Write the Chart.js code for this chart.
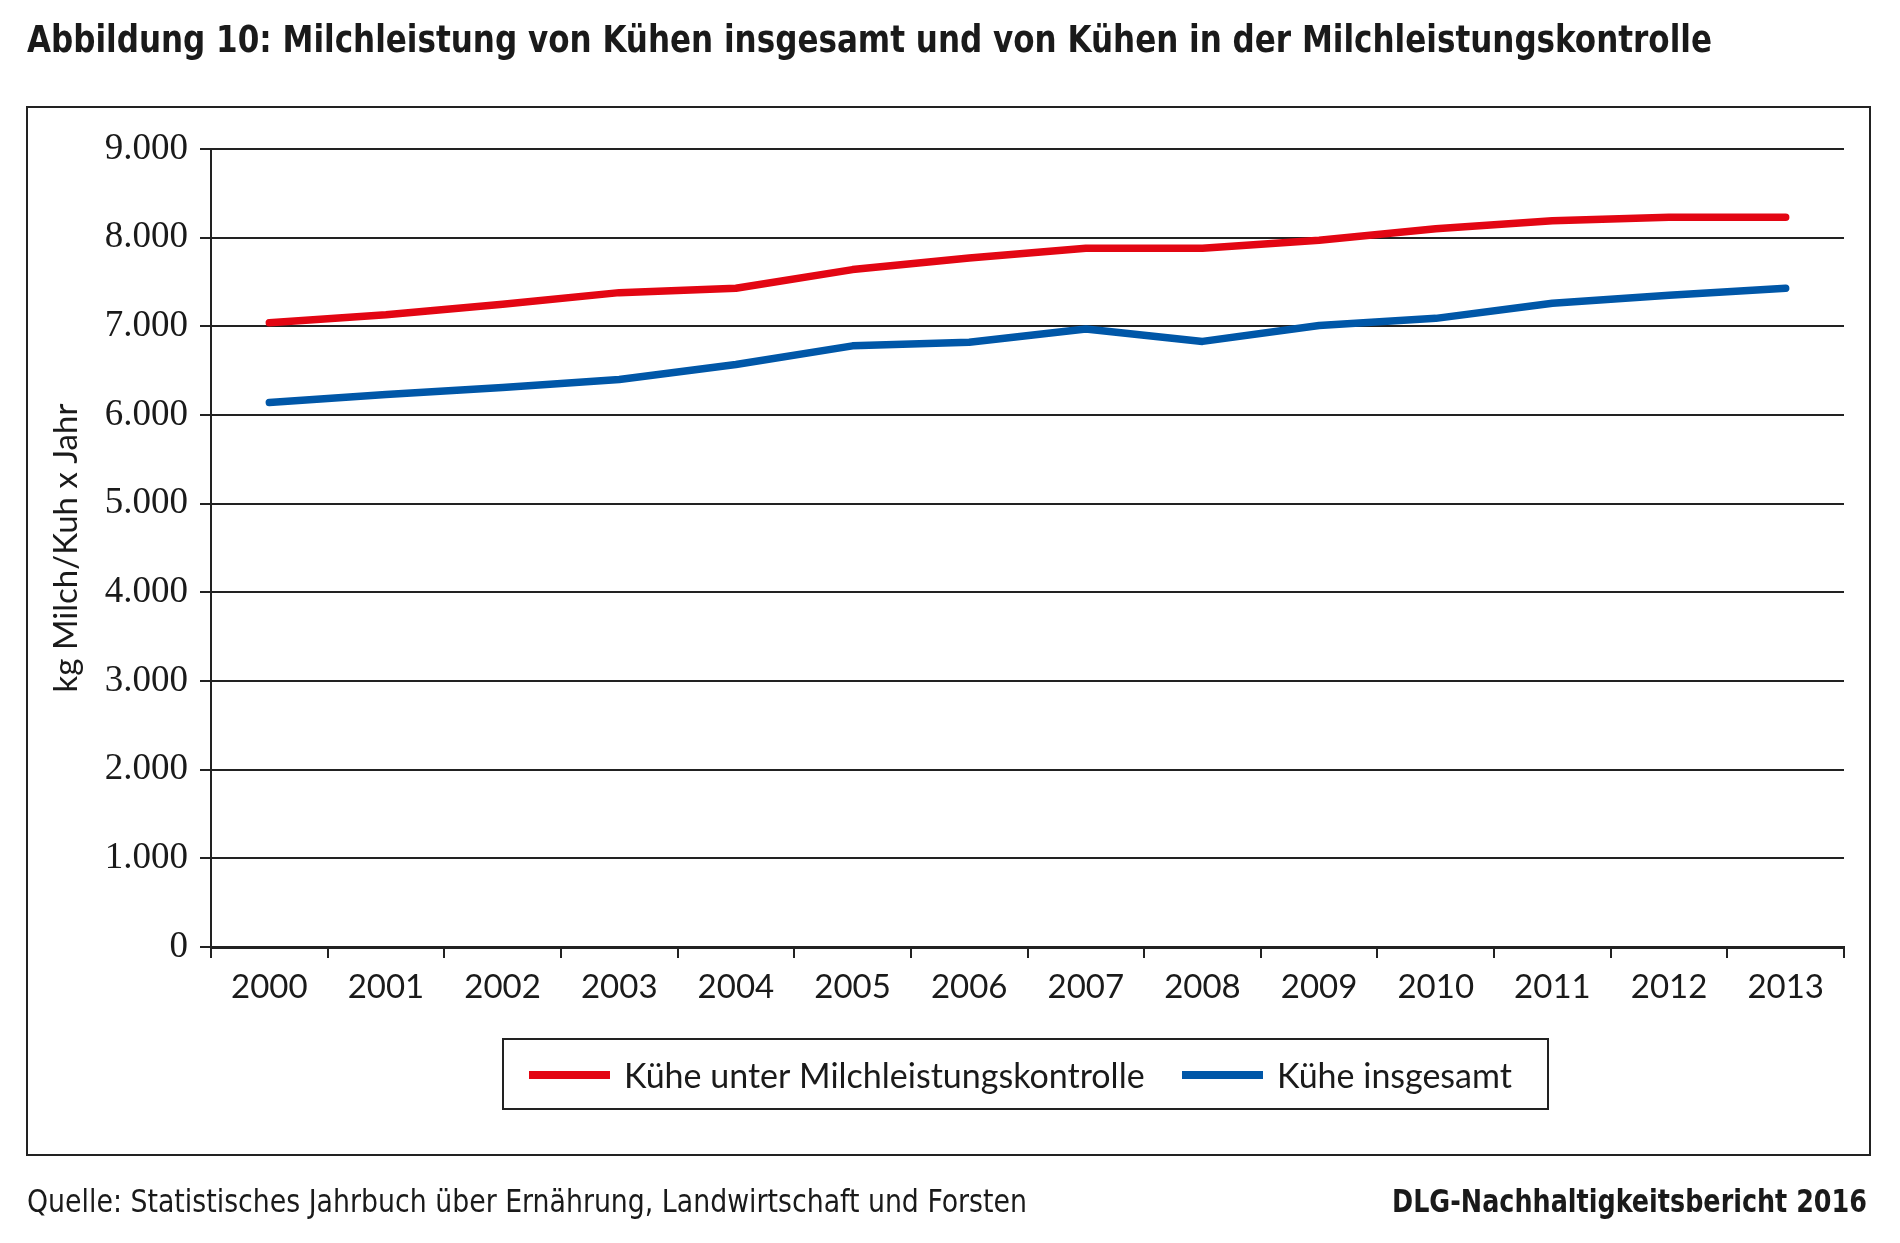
<!DOCTYPE html>
<html>
<head>
<meta charset="utf-8">
<script src="https://cdn.jsdelivr.net/npm/chart.js@4.4.0/dist/chart.umd.min.js"></script>
<style>
  html, body { margin: 0; padding: 0; background: #fff; }
  #wrap { width: 1900px; height: 1243px; position: relative; }
</style>
</head>
<body>
<div id="wrap"><canvas id="milkChart" width="1900" height="1243"></canvas></div>
<script>
// data
var years = ['2000', '2001', '2002', '2003', '2004', '2005', '2006', '2007', '2008', '2009', '2010', '2011', '2012', '2013'];
var kueheMlp = [7040, 7130, 7250, 7380, 7430, 7640, 7770, 7880, 7880, 7970, 8100, 8190, 8230, 8230];
var kueheGesamt = [6140, 6230, 6310, 6400, 6570, 6780, 6820, 6970, 6830, 7010, 7090, 7260, 7350, 7430];
var seriesNames = ['Kühe unter Milchleistungskontrolle', 'Kühe insgesamt'];

var titleText = 'Abbildung 10: Milchleistung von Kühen insgesamt und von Kühen in der Milchleistungskontrolle';
var sourceText = 'Quelle: Statistisches Jahrbuch über Ernährung, Landwirtschaft und Forsten';
var reportText = 'DLG-Nachhaltigkeitsbericht 2016';

var narrow = '"Liberation Sans Narrow", "DejaVu Sans Condensed", sans-serif';
var ink = '#222';

// german thousands separator
function fmt(v) {
    return String(v).replace(/\B(?=(\d{3})+(?!\d))/g, '.');
}

// frame, title, footer and legend box
var decorations = {
    id: 'decorations',
    afterDraw: function(chart) {
        var ctx = chart.ctx;
        ctx.save();
        ctx.fillStyle = '#1a1a1a';
        ctx.textBaseline = 'alphabetic';

        ctx.font = 'bold 37px ' + narrow;
        ctx.textAlign = 'left';
        ctx.fillText(titleText, 27, 52, 1685);

        ctx.font = '32px ' + narrow;
        ctx.fillText(sourceText, 27, 1212, 1000);
        ctx.font = 'bold 32px ' + narrow;
        ctx.textAlign = 'right';
        ctx.fillText(reportText, 1867, 1212, 475);

        ctx.strokeStyle = ink;
        ctx.lineWidth = 2;
        ctx.strokeRect(27, 107, 1843, 1048);

        // legend
        ctx.strokeRect(503, 1039, 1045, 70);
        var items = [{ x: 529, tx: 624 }, { x: 1182, tx: 1277 }];
        ctx.font = '34px Lato, sans-serif';
        ctx.textAlign = 'left';
        ctx.textBaseline = 'middle';
        chart.data.datasets.forEach(function(ds, i) {
            ctx.strokeStyle = ds.borderColor;
            ctx.lineWidth = 8;
            ctx.lineCap = 'butt';
            ctx.beginPath();
            ctx.moveTo(items[i].x, 1075);
            ctx.lineTo(items[i].x + 81, 1075);
            ctx.stroke();
            ctx.fillStyle = '#1a1a1a';
            ctx.fillText(ds.label, items[i].tx, 1077);
        });
        ctx.restore();
    }
};

var ctx = document.getElementById('milkChart').getContext('2d');

const data = {
    labels: years,
    datasets: [{
        label: seriesNames[0],
        data: kueheMlp,
        borderColor: 'rgb(227, 6, 19)',
        backgroundColor: 'rgb(227, 6, 19)'
    }, {
        label: seriesNames[1],
        data: kueheGesamt,
        borderColor: 'rgb(0, 87, 168)',
        backgroundColor: 'rgb(0, 87, 168)'
    }]
};

const config = {
    type: 'line',
    data: data,
    options: {
        responsive: false,
        animation: false,
        devicePixelRatio: 1,
        layout: {
            padding: { left: 0, top: 149, right: 56, bottom: 236 }
        },
        elements: {
            line: {
                borderWidth: 7.5,
                tension: 0,
                borderCapStyle: 'round',
                borderJoinStyle: 'round'
            },
            point: { radius: 0, hoverRadius: 0 }
        },
        plugins: {
            legend: { display: false },
            title: { display: false },
            tooltip: { enabled: false }
        },
        scales: {
            x: {
                offset: true,
                afterFit: function(scale) { scale.height = 60; },
                grid: {
                    offset: true,
                    drawOnChartArea: false,
                    drawTicks: true,
                    tickLength: 11,
                    color: ink,
                    lineWidth: 2
                },
                border: { display: true, color: ink, width: 3 },
                ticks: {
                    color: '#1a1a1a',
                    padding: 10,
                    maxRotation: 0,
                    font: { family: 'Lato', size: 33 }
                }
            },
            y: {
                min: 0,
                max: 9000,
                afterFit: function(scale) { scale.width = 211; },
                grid: {
                    color: ink,
                    lineWidth: 2,
                    tickLength: 11,
                    drawTicks: true
                },
                border: { display: true, color: ink, width: 2 },
                ticks: {
                    stepSize: 1000,
                    color: '#1a1a1a',
                    padding: 12,
                    font: { family: '"Liberation Serif", serif', size: 37 },
                    callback: function(v) { return fmt(v); }
                },
                title: {
                    display: true,
                    text: 'kg Milch/Kuh x Jahr',
                    color: '#1a1a1a',
                    padding: { top: 47, bottom: 0 },
                    font: { family: 'Lato', size: 33 }
                }
            }
        }
    },
    plugins: [decorations]
};

const milkChart = new Chart(ctx, config);
</script>
</body>
</html>
